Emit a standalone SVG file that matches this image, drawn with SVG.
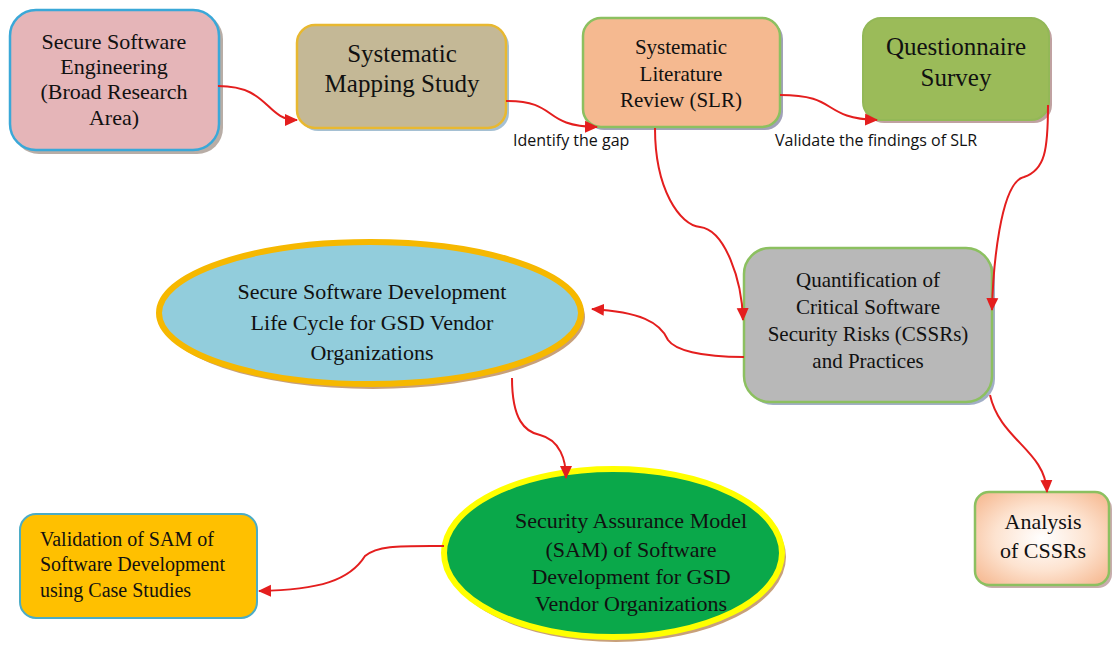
<svg xmlns="http://www.w3.org/2000/svg" width="1113" height="649" viewBox="0 0 1113 649">
<defs>
<marker id="ah" markerWidth="14" markerHeight="14" refX="12" refY="7" orient="auto" markerUnits="userSpaceOnUse" viewBox="0 0 14 14">
<path d="M0,1 L13,7 L0,13 Z" fill="#e41e1e"/>
</marker>
<radialGradient id="peach" cx="0.5" cy="0.5" r="0.7">
<stop offset="0" stop-color="#ffffff"/>
<stop offset="0.5" stop-color="#fde3d0"/>
<stop offset="1" stop-color="#f5b48a"/>
</radialGradient>
<style>
.t{font-family:"Liberation Serif","DejaVu Serif",serif;fill:#111;text-anchor:middle}
.lab{font-family:"Open Sans","Liberation Sans",sans-serif;font-size:16px;fill:#111}
.c{fill:none;stroke:#e41e1e;stroke-width:2;marker-end:url(#ah)}
.sh{fill:#9a8a80;opacity:0.7}
</style>
</defs>
<rect width="1113" height="649" fill="#ffffff"/>

<g id="n1">
<rect class="sh" x="13" y="13" width="210" height="141" rx="26"/>
<rect x="10" y="10" width="209" height="140" rx="26" fill="#e5b5b8" stroke="#3aa8d8" stroke-width="2.5"/>
<text class="t" font-size="22"><tspan x="114" y="49">Secure Software</tspan><tspan x="114" y="74">Engineering</tspan><tspan x="114" y="99">(Broad Research</tspan><tspan x="114" y="125">Area)</tspan></text>
</g>

<g id="n2">
<rect x="300" y="28" width="209" height="103" rx="18" fill="#8fb0c8" opacity="0.8"/>
<rect x="297" y="25" width="209" height="103" rx="18" fill="#c4b896" stroke="#e8b830" stroke-width="2.5"/>
<text class="t" font-size="25"><tspan x="402" y="62">Systematic</tspan><tspan x="402" y="92">Mapping Study</tspan></text>
</g>

<g id="n3">
<rect x="586" y="21" width="197" height="109" rx="18" fill="#8a8aa8" opacity="0.8"/>
<rect x="583" y="18" width="197" height="109" rx="18" fill="#f5b990" stroke="#8cc060" stroke-width="2.5"/>
<text class="t" font-size="21"><tspan x="681" y="54">Systematic</tspan><tspan x="681" y="81">Literature</tspan><tspan x="681" y="107">Review (SLR)</tspan></text>
</g>

<g id="n4">
<rect x="866" y="21" width="186" height="102" rx="18" fill="#b08a8a" opacity="0.8"/>
<rect x="863" y="18" width="186" height="102" rx="18" fill="#9bbb59" stroke="#93b857" stroke-width="2"/>
<text class="t" font-size="25"><tspan x="956" y="55">Questionnaire</tspan><tspan x="956" y="86">Survey</tspan></text>
</g>

<g id="n5">
<rect x="747" y="251" width="248" height="154" rx="26" fill="#8a9ab8" opacity="0.8"/>
<rect x="744" y="248" width="248" height="154" rx="26" fill="#b8b8b8" stroke="#8cc060" stroke-width="2.5"/>
<text class="t" font-size="21"><tspan x="868" y="287">Quantification of</tspan><tspan x="868" y="314">Critical Software</tspan><tspan x="868" y="341">Security Risks (CSSRs)</tspan><tspan x="868" y="368">and Practices</tspan></text>
</g>

<g id="n6">
<ellipse cx="373" cy="317" rx="212" ry="72" fill="#c8a07a"/>
<ellipse cx="370" cy="313" rx="211" ry="71" fill="#92cddc" stroke="#f6b800" stroke-width="6"/>
<text class="t" font-size="22"><tspan x="372" y="299">Secure Software Development</tspan><tspan x="372" y="330">Life Cycle for GSD Vendor</tspan><tspan x="372" y="360">Organizations</tspan></text>
</g>

<g id="n7">
<ellipse cx="616" cy="557" rx="170" ry="85" fill="#c8a07a"/>
<ellipse cx="613" cy="553" rx="169" ry="84" fill="#0aa84a" stroke="#ffff00" stroke-width="6"/>
<text class="t" font-size="22"><tspan x="631" y="528">Security Assurance Model</tspan><tspan x="631" y="557">(SAM) of Software</tspan><tspan x="631" y="584">Development for GSD</tspan><tspan x="631" y="611">Vendor Organizations</tspan></text>
</g>

<g id="n8">
<rect x="20" y="514" width="237" height="104" rx="16" fill="#ffc000" stroke="#4bacc6" stroke-width="2"/>
<text class="t" font-size="20" style="text-anchor:start"><tspan x="40" y="546">Validation of SAM of</tspan><tspan x="40" y="571">Software Development</tspan><tspan x="40" y="597">using Case Studies</tspan></text>
</g>

<g id="n9">
<rect x="978" y="495" width="134" height="93" rx="14" fill="#b08a8a" opacity="0.7"/>
<rect x="975" y="492" width="134" height="93" rx="14" fill="url(#peach)" stroke="#8cc060" stroke-width="2.5"/>
<text class="t" font-size="22"><tspan x="1043" y="529">Analysis</tspan><tspan x="1043" y="558">of CSSRs</tspan></text>
</g>

<g id="connectors">
<path class="c" d="M218,86 C270,86 265,120 297,120"/>
<path class="c" d="M506,101 C560,101 540,126 597,127"/>
<path class="c" d="M780,95 C840,95 820,118 877,120"/>
<path class="c" d="M655,128 C655,190 680,225 700,227 C725,230 742,280 743,320"/>
<path class="c" d="M1048,105 C1048,150 1045,170 1024,177 C1000,182 993,270 992,310"/>
<path class="c" d="M744,357 C700,357 675,350 668,340 C660,322 640,312 592,309"/>
<path class="c" d="M512,378 C512,420 525,432 540,435 C560,440 566,460 566,478"/>
<path class="c" d="M444,546 C400,546 378,545 365,556 C350,580 320,590 259,591"/>
<path class="c" d="M990,395 C1000,440 1045,450 1047,492"/>
</g>

<g id="labels">
<text class="lab" x="513" y="146">Identify the gap</text>
<text class="lab" x="775" y="146">Validate the findings of SLR</text>
</g>
</svg>
